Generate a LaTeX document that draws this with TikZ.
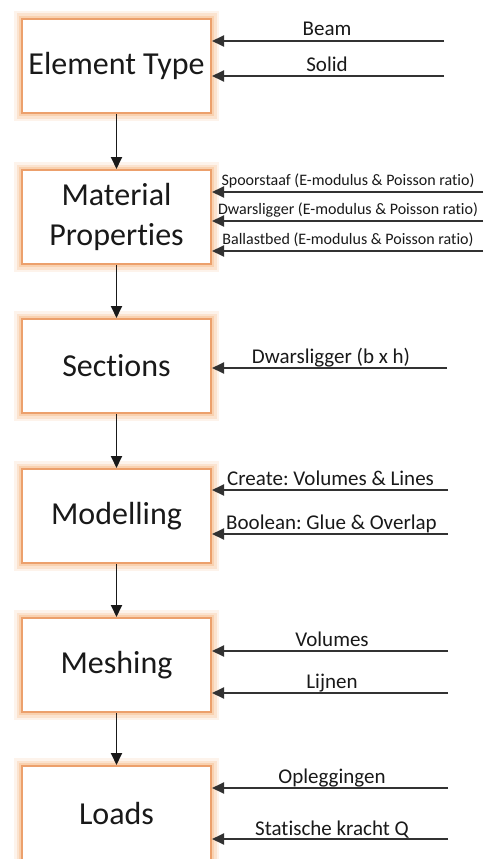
\documentclass[tikz,border=0pt]{standalone}
\usepackage{fontspec}
\setmainfont{Carlito}[Ligatures=NoCommon]
\usetikzlibrary{arrows.meta}
\definecolor{glowc}{RGB}{248,192,145}
\definecolor{edgec}{RGB}{236,160,108}
\definecolor{linec}{RGB}{50,50,50}
\definecolor{inkc}{RGB}{25,25,25}
\frenchspacing
\begin{document}
\begin{tikzpicture}[x=1pt,y=-1pt,
  stage/.style={draw=edgec, line width=2pt, fill=white,
    preaction={draw=glowc, line width=16pt, opacity=0.18},
    preaction={draw=glowc, line width=11pt, opacity=0.3},
    preaction={draw=glowc, line width=6pt, opacity=0.5},
    minimum width=189pt, minimum height=94pt, inner sep=0pt, align=center,
    font=\fontsize{32}{40}\selectfont, text=inkc, anchor=north west},
  feed/.style={draw=linec, line width=1.9pt, -{Triangle[length=12pt,width=11pt]}},
  flow/.style={draw=inkc, line width=1.9pt, -{Triangle[length=12pt,width=11pt]}},
  lbl/.style={anchor=base, font=\fontsize{21}{24}\selectfont, text=inkc, inner sep=0pt},
  lblw/.style={lbl, anchor=base west},
  tiny/.style={anchor=base, font=\fontsize{16}{18}\selectfont, text=inkc, inner sep=0pt},
]
\useasboundingbox[fill=white] (0,0) rectangle (483,859);

% process stages
\node[stage] (et)    at (21,18)  {Element Type};
\node[stage] (mp)    at (21,169) {Material\\Properties};
\node[stage] (sec)   at (21,318) {Sections};
\node[stage] (mod)   at (21,468) {Modelling};
\node[stage] (mesh)  at (21,617) {Meshing};
\node[stage] (loads) at (21,765) {Loads};

% flow between stages
\draw[flow] (et) -- (mp);
\draw[flow] (mp) -- (sec);
\draw[flow] (sec) -- (mod);
\draw[flow] (mod) -- (mesh);
\draw[flow] (mesh) -- (loads);

% inputs: element type
\coordinate (i1) at (444,41);
\coordinate (i2) at (444,76);
\draw[feed] (i1) -- (et.east |- i1);
\draw[feed] (i2) -- (et.east |- i2);
\node[lbl] (l1) at (327,36) {Beam};
\node[lbl] (l2) at (327,71) {Solid};

% inputs: material properties
\coordinate (i3) at (483,192);
\coordinate (i4) at (483,221);
\coordinate (i5) at (483,251);
\draw[feed] (i3) -- (mp.east |- i3);
\draw[feed] (i4) -- (mp.east |- i4);
\draw[feed] (i5) -- (mp.east |- i5);
\node[tiny] (l3) at (348,185) {Spoorstaaf (E-modulus \& Poisson ratio)};
\node[tiny] (l4) at (348,214) {Dwarsligger (E-modulus \& Poisson ratio)};
\node[tiny] (l5) at (348,244) {Ballastbed (E-modulus \& Poisson ratio)};

% inputs: sections
\coordinate (i6) at (447,368);
\draw[feed] (i6) -- (sec.east |- i6);
\node[lbl] (l6) at (331,363) {Dwarsligger (b x h)};

% inputs: modelling
\coordinate (i7) at (448,490);
\coordinate (i8) at (448,534);
\draw[feed] (i7) -- (mod.east |- i7);
\draw[feed] (i8) -- (mod.east |- i8);
\node[lblw] (l7) at (227,485) {Create: Volumes \& Lines};
\node[lblw] (l8) at (226,529) {Boolean: Glue \& Overlap};

% inputs: meshing
\coordinate (i9) at (448,651);
\coordinate (i10) at (448,693);
\draw[feed] (i9) -- (mesh.east |- i9);
\draw[feed] (i10) -- (mesh.east |- i10);
\node[lbl] (l9) at (332,646) {Volumes};
\node[lbl] (l10) at (332,688) {Lijnen};

% inputs: loads
\coordinate (i11) at (448,788);
\coordinate (i12) at (448,839);
\draw[feed] (i11) -- (loads.east |- i11);
\draw[feed] (i12) -- (loads.east |- i12);
\node[lbl] (l11) at (332,783) {Opleggingen};
\node[lbl] (l12) at (332,835) {Statische kracht Q};
\end{tikzpicture}
\end{document}
